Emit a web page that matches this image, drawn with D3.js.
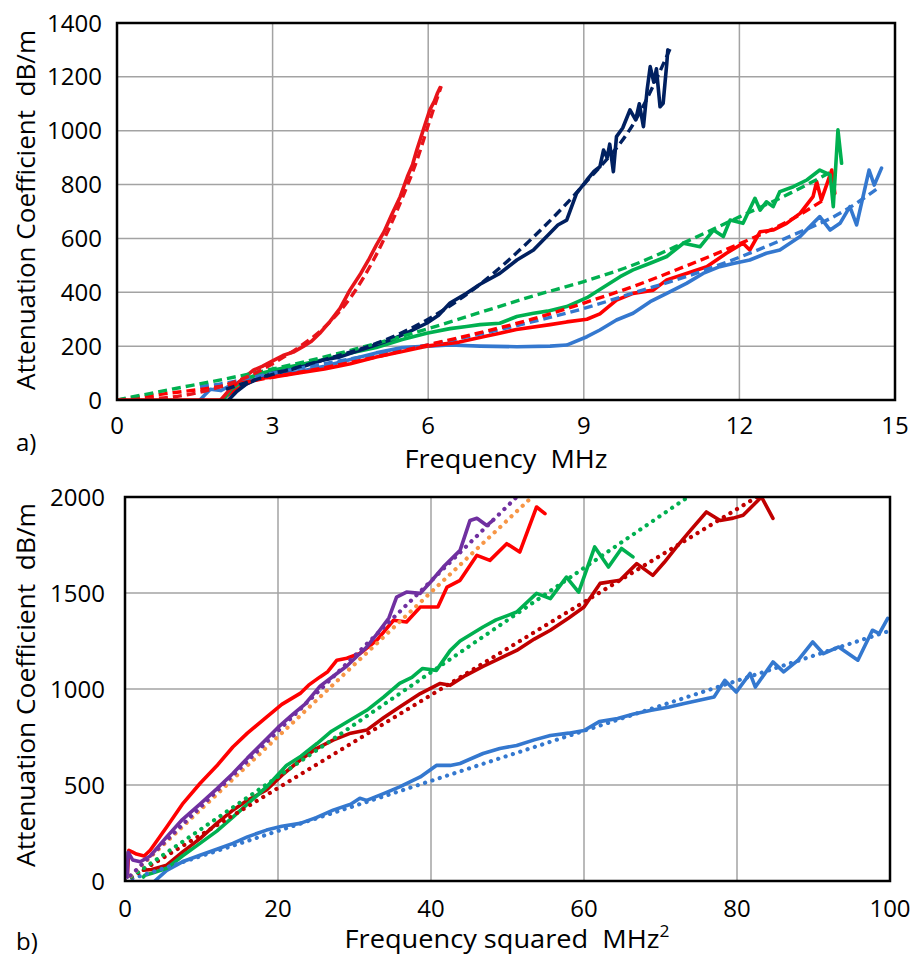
<!DOCTYPE html>
<html>
<head>
<meta charset="utf-8">
<script src="https://cdnjs.cloudflare.com/ajax/libs/d3/7.8.5/d3.min.js"></script>
<style>
  body { margin: 0; background: #fff; }
  svg { display: block; font-family: "Open Sans", "Noto Sans", sans-serif; }
</style>
</head>
<body>
<div class="figure"></div>
<script>
// ---------- panel a) : attenuation vs frequency ----------
const freqTicks = [0, 3, 6, 9, 12, 15];
const attTicksA = [0, 200, 400, 600, 800, 1000, 1200, 1400];

// measured curves [MHz, dB/m]
const redSteepSolid = [[2.0,0],[2.2,45],[2.4,75],[2.63,111],[2.8,125],[3.0,145],[3.2,165],[3.4,178],[3.6,200],[3.75,218],[3.91,248],[4.1,290],[4.3,340],[4.49,408],[4.7,470],[4.85,520],[5.0,575],[5.15,625],[5.3,690],[5.46,755],[5.6,830],[5.7,875],[5.78,928],[5.9,1000],[6.03,1077],[6.12,1110],[6.18,1140],[6.23,1160]];
const navySolid = [[2.15,0],[2.3,30],[2.5,60],[2.8,85],[3.0,100],[3.3,110],[3.6,125],[4.0,150],[4.3,160],[4.6,180],[5.0,205],[5.3,225],[5.6,250],[5.97,285],[6.2,315],[6.42,360],[6.74,396],[7.0,430],[7.38,470],[7.71,520],[8.03,557],[8.35,620],[8.5,650],[8.67,668],[8.86,767],[9.06,817],[9.2,850],[9.31,866],[9.38,928],[9.45,900],[9.5,950],[9.57,848],[9.63,978],[9.75,1010],[9.89,1077],[10.0,1040],[10.07,1100],[10.15,1015],[10.22,1150],[10.28,1238],[10.35,1180],[10.4,1230],[10.47,1089],[10.53,1102],[10.6,1250],[10.62,1300]];
const greenSolid = [[2.05,0],[2.2,40],[2.5,80],[2.8,100],[3.0,110],[3.5,130],[4.0,150],[4.5,175],[5.0,195],[5.5,225],[5.97,248],[6.42,265],[6.74,273],[7.0,280],[7.38,285],[7.71,310],[8.03,322],[8.3,330],[8.67,347],[9.06,380],[9.31,410],[9.7,458],[9.95,483],[10.28,508],[10.6,533],[10.92,582],[11.24,569],[11.5,631],[11.69,607],[11.82,668],[12.07,656],[12.3,749],[12.4,705],[12.52,736],[12.65,718],[12.78,774],[13.04,792],[13.3,817],[13.55,854],[13.75,836],[13.81,718],[13.9,1003],[13.97,879]];
const redSolid = [[0,0],[1.0,0],[2.0,0],[2.3,40],[2.6,70],[2.76,81],[3.0,85],[3.5,100],[4.0,115],[4.5,135],[5.0,160],[5.5,180],[5.97,200],[6.6,215],[7.06,235],[7.38,248],[7.7,262],[8.35,280],[8.67,290],[9.06,300],[9.31,320],[9.63,371],[9.95,396],[10.34,408],[10.6,446],[10.98,470],[11.37,495],[11.75,545],[12.07,582],[12.2,557],[12.4,625],[12.65,631],[12.91,656],[13.17,693],[13.42,755],[13.49,811],[13.58,743],[13.68,798],[13.78,854],[13.84,767]];
const blueSolid = [[1.6,0],[1.7,20],[1.8,40],[2.0,35],[2.2,55],[2.5,70],[3.0,90],[3.5,105],[4.0,125],[4.5,150],[5.0,175],[5.5,195],[6.0,200],[6.42,204],[7.0,200],[7.71,198],[8.35,200],[8.67,204],[9.06,235],[9.31,260],[9.63,297],[9.95,322],[10.28,365],[10.6,396],[10.98,433],[11.3,470],[11.62,495],[11.88,507],[12.2,520],[12.52,545],[12.78,557],[13.17,607],[13.42,656],[13.55,681],[13.75,631],[13.94,656],[14.13,718],[14.26,650],[14.5,854],[14.6,798],[14.74,861]];

// fitted curves [MHz, dB/m]
const redSteepFit = [[0,0],[1,10],[2,50],[2.5,85],[3,135],[3.5,195],[4,270],[4.5,380],[5,540],[5.5,750],[5.8,900],[6.0,1020],[6.25,1165]];
const navyFit = [[2.1,40],[3,95],[4,150],[5,210],[6,300],[7,430],[8,600],[9,800],[10,1040],[10.7,1320]];
const greenFit = [[0,0],[1,38],[2,75],[3,115],[4,160],[5,210],[6,265],[7,325],[8,385],[9,440],[10,505],[11,590],[12,680],[13,770],[13.8,850]];
const redFit = [[0,0],[1,25],[2,50],[3,85],[4,120],[5,160],[6,205],[7,250],[8,300],[9,360],[10,425],[11,500],[12,580],[13,670],[13.6,740]];
const blueFit = [[1.6,50],[2,60],[3,100],[4,135],[5,170],[6,205],[7,245],[8,290],[9,340],[10,400],[11,460],[12,530],[13,610],[14,700],[14.7,790]];

// ---------- panel b) : attenuation vs frequency squared ----------
const freqSqTicks = [0, 20, 40, 60, 80, 100];
const attTicksB = [0, 500, 1000, 1500, 2000];

// measured curves [MHz^2, dB/m]
const purpleSolid = [[0.3,20],[0.4,150],[1,110],[2,100],[3.3,130],[5.45,230],[7.5,320],[9.8,400],[12,480],[14.1,560],[16,640],[18.5,740],[20,800],[22,870],[23.5,920],[25.5,1015],[27,1060],[29,1120],[31.6,1219],[33,1290],[34.5,1370],[35.5,1479],[36.8,1505],[38.6,1498],[40,1560],[41.6,1635],[43.8,1722],[45.1,1878],[46,1889],[47.3,1852],[48.1,1878]];
const brightRedSolid = [[0.3,30],[0.5,160],[1,150],[1.5,140],[2.5,130],[3.3,160],[5.45,281],[7.5,400],[9.8,508],[12,600],[14.1,698],[16,770],[18.5,854],[20.5,920],[22.9,977],[24,1020],[25.5,1063],[26.5,1090],[27.7,1150],[29,1160],[30.7,1185],[32.9,1253],[35.1,1358],[36.8,1349],[38.6,1427],[40.9,1427],[42.1,1531],[43.8,1566],[46,1696],[47.7,1670],[49.9,1757],[51.6,1713],[53.8,1948],[54.9,1913]];
const greenSqSolid = [[2.4,21],[2.6,30],[3.5,40],[5.45,66],[7.5,130],[9.8,196],[12,260],[14.1,333],[16,400],[18.5,490],[21.1,602],[23,650],[25.1,716],[27,780],[29.4,837],[31.6,889],[33.8,958],[35.9,1029],[37.5,1060],[38.9,1107],[40.7,1097],[42.5,1200],[43.8,1250],[46.8,1323],[48.5,1360],[51.2,1401],[53.8,1498],[55.6,1471],[57.7,1583],[59.3,1505],[61.4,1740],[63.2,1635],[64.9,1732],[66.4,1688]];
const darkRedSolid = [[2.4,56],[3.5,60],[5.45,82],[7.5,150],[9.8,221],[12,300],[14.1,369],[16,420],[18.5,474],[20.5,550],[22.9,630],[25,690],[27.2,734],[29.5,770],[31.6,786],[33.8,850],[35.9,906],[38.6,976],[41.2,1029],[42.5,1019],[44.5,1070],[46.8,1118],[49,1160],[51.2,1201],[53.5,1260],[55.6,1306],[58,1370],[60,1427],[62.1,1550],[64.7,1566],[66.9,1653],[69,1592],[70.5,1660],[72.1,1740],[74,1830],[76,1922],[77.8,1878],[79.5,1890],[80.8,1905],[83.2,2000],[84.7,1889]];
const blueSqSolid = [[3.9,0],[5.45,55],[7.5,100],[9.8,134],[12,165],[14.1,196],[16,230],[18.5,265],[20.5,285],[22.9,300],[25,330],[27.2,369],[29.5,400],[30.7,431],[31.6,420],[33.8,455],[35.9,490],[38.6,542],[40.7,602],[42.5,602],[43.8,612],[46.8,664],[49,690],[51.2,706],[53.5,735],[55.6,758],[58,770],[60,784],[62,830],[64.4,846],[66.5,870],[68.8,889],[71,905],[73.1,925],[77,958],[78.4,1045],[79.9,984],[81.7,1081],[82.4,1010],[84.7,1141],[86.1,1089],[88,1150],[89.9,1245],[91.3,1184],[93.3,1219],[95.8,1150],[97.7,1306],[98.6,1289],[99.7,1368]];

// linear fits [MHz^2, dB/m]
const purpleFit = [[0,0],[51.2,2000]];
const orangeFit = [[0,0],[53.2,2000]];
const greenSqFit = [[0,0],[73.6,2000]];
const darkRedFit = [[0,0],[82.6,2000]];
const blueSqFit = [[0,0],[99.7,1300]];

const width = 914;
const height = 956;

const svg = d3.select('.figure')
    .append('svg')
    .attr('width', width)
    .attr('height', height);

function drawPanel(p) {
    const x = d3.scaleLinear().domain(p.xDomain).range([p.left, p.right]);
    const y = d3.scaleLinear().domain(p.yDomain).range([p.bottom, p.top]);
    const g = svg.append('g');

    // grid
    g.selectAll('.vgrid')
        .data(p.xTicks.slice(1, -1))
        .enter()
        .append('line')
        .attr('x1', d => x(d)).attr('x2', d => x(d))
        .attr('y1', p.top).attr('y2', p.bottom)
        .attr('stroke', '#a3a3a3')
        .attr('stroke-width', 1.5);
    g.selectAll('.hgrid')
        .data(p.yTicks.slice(1, -1))
        .enter()
        .append('line')
        .attr('x1', p.left).attr('x2', p.right)
        .attr('y1', d => y(d)).attr('y2', d => y(d))
        .attr('stroke', '#a3a3a3')
        .attr('stroke-width', 1.5);

    // curves, clipped to the plot box
    const clipId = 'clip-' + p.name;
    svg.append('clipPath').attr('id', clipId)
        .append('rect')
        .attr('x', p.left).attr('y', p.top)
        .attr('width', p.right - p.left).attr('height', p.bottom - p.top);

    const lines = g.append('g').attr('clip-path', 'url(#' + clipId + ')');
    p.series.forEach(s => {
        const line = d3.line()
            .x(d => x(d[0]))
            .y(d => y(d[1]))
            .curve(s.smooth ? d3.curveMonotoneX : d3.curveLinear);
        const path = lines.append('path')
            .datum(s.data)
            .attr('d', line)
            .attr('fill', 'none')
            .attr('stroke', s.color)
            .attr('stroke-linejoin', 'round');
        if (s.style === 'dash') {
            path.attr('stroke-width', 3.4).attr('stroke-dasharray', '9,5');
        } else if (s.style === 'dot') {
            path.attr('stroke-width', 4.2).attr('stroke-dasharray', '0.1,7.6').attr('stroke-linecap', 'round');
        } else {
            path.attr('stroke-width', 3.6).attr('stroke-linecap', 'round');
        }
    });

    // frame
    g.append('rect')
        .attr('x', p.left).attr('y', p.top)
        .attr('width', p.right - p.left).attr('height', p.bottom - p.top)
        .attr('fill', 'none')
        .attr('stroke', '#000')
        .attr('stroke-width', 2.5);

    // tick labels
    g.selectAll('.ylab')
        .data(p.yTicks)
        .enter()
        .append('text')
        .text(d => d)
        .attr('x', p.yLabelX)
        .attr('y', d => y(d))
        .attr('dy', '0.36em')
        .attr('text-anchor', 'end')
        .attr('font-size', 24);
    g.selectAll('.xlab')
        .data(p.xTicks)
        .enter()
        .append('text')
        .text(d => d)
        .attr('x', d => x(d))
        .attr('y', p.xLabelY)
        .attr('text-anchor', 'middle')
        .attr('font-size', 24);

    // axis titles
    g.append('text')
        .text('Attenuation Coefficient  dB/m')
        .attr('transform', 'translate(35,' + p.yTitleMid + ') rotate(-90)')
        .attr('text-anchor', 'middle')
        .attr('font-size', 25)
        .attr('textLength', p.yTitleLen)
        .attr('lengthAdjust', 'spacingAndGlyphs')
        .style('white-space', 'pre');

    const xt = g.append('text')
        .attr('x', p.xTitleMid)
        .attr('y', p.xTitleY)
        .attr('text-anchor', 'middle')
        .attr('font-size', 25)
        .attr('textLength', p.xTitleLen)
        .attr('lengthAdjust', 'spacingAndGlyphs')
        .style('white-space', 'pre');
    xt.append('tspan').text(p.xTitle);
    if (p.xTitleSup) {
        xt.append('tspan').text(p.xTitleSup).attr('font-size', 16).attr('dy', -11);
    }

    // panel letter
    g.append('text')
        .text(p.letter)
        .attr('x', 16)
        .attr('y', p.letterY)
        .attr('font-size', 24);
}

drawPanel({
    name: 'a',
    left: 117, right: 895, top: 23, bottom: 400,
    xDomain: [0, 15], yDomain: [0, 1400],
    xTicks: freqTicks, yTicks: attTicksA,
    yLabelX: 102, xLabelY: 434,
    yTitleMid: 210, yTitleLen: 360,
    xTitle: 'Frequency  MHz', xTitleSup: null,
    xTitleMid: 506, xTitleY: 468, xTitleLen: 203,
    letter: 'a)', letterY: 451,
    series: [
        {data: blueSolid, color: '#3478cf', style: 'solid'},
        {data: redSolid, color: '#ff0000', style: 'solid'},
        {data: greenSolid, color: '#00b050', style: 'solid'},
        {data: navySolid, color: '#002060', style: 'solid'},
        {data: redSteepSolid, color: '#e8141a', style: 'solid'},
        {data: blueFit, color: '#3478cf', style: 'dash', smooth: true},
        {data: redFit, color: '#ff0000', style: 'dash', smooth: true},
        {data: greenFit, color: '#00b050', style: 'dash', smooth: true},
        {data: navyFit, color: '#002060', style: 'dash', smooth: true},
        {data: redSteepFit, color: '#e8141a', style: 'dash', smooth: true}
    ]
});

drawPanel({
    name: 'b',
    left: 125, right: 890, top: 497, bottom: 881,
    xDomain: [0, 100], yDomain: [0, 2000],
    xTicks: freqSqTicks, yTicks: attTicksB,
    yLabelX: 105, xLabelY: 917,
    yTitleMid: 685, yTitleLen: 364,
    xTitle: 'Frequency squared  MHz', xTitleSup: '2',
    xTitleMid: 507, xTitleY: 948, xTitleLen: 325,
    letter: 'b)', letterY: 950,
    series: [
        {data: blueSqSolid, color: '#3478cf', style: 'solid'},
        {data: darkRedSolid, color: '#c00000', style: 'solid'},
        {data: greenSqSolid, color: '#00b050', style: 'solid'},
        {data: brightRedSolid, color: '#ff0000', style: 'solid'},
        {data: purpleSolid, color: '#7030a0', style: 'solid'},
        {data: blueSqFit, color: '#3478cf', style: 'dot'},
        {data: darkRedFit, color: '#c00000', style: 'dot'},
        {data: greenSqFit, color: '#00b050', style: 'dot'},
        {data: orangeFit, color: '#f79646', style: 'dot'},
        {data: purpleFit, color: '#7030a0', style: 'dot'}
    ]
});
</script>
</body>
</html>
